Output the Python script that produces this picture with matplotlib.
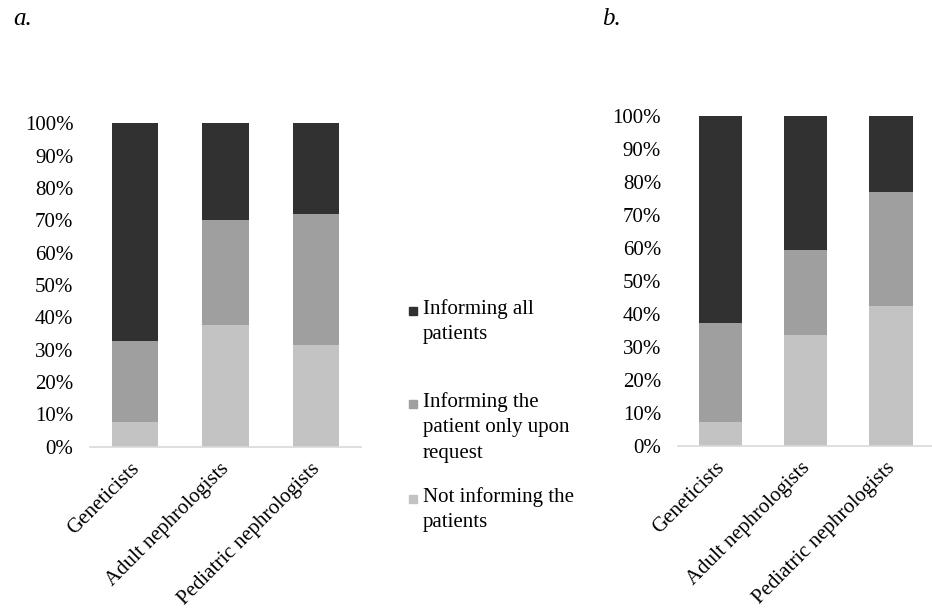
import numpy as np
import matplotlib.pyplot as plt
import matplotlib.transforms as mtransforms
from matplotlib.patches import Rectangle

plt.rcParams['font.family'] = ['Liberation Serif', 'DejaVu Serif']

categories = ["Geneticists", "Adult nephrologists", "Pediatric nephrologists"]
series_names = ["Informing all\npatients",
                "Informing the\npatient only upon\nrequest",
                "Not informing the\npatients"]

# panel a (percent)
a_not = [7.6, 37.6, 31.5]
a_request = [25.1, 32.5, 40.4]
a_all = [67.3, 29.9, 28.1]

# panel b (percent)
b_not = [7.2, 33.6, 42.3]
b_request = [30.1, 25.6, 34.7]
b_all = [62.7, 40.8, 23.0]

c_all = "#313131"
c_req = "#9f9f9f"
c_not = "#c3c3c3"

fig = plt.figure(figsize=(9.32, 6.13), dpi=100)

ax_a = fig.add_axes([90/932, 1-446.7/613, 271/932, 323.4/613])
ax_b = fig.add_axes([677.7/932, 1-445.7/613, 256/932, 330/613])


def draw(ax, not_inf, request, all_inf):
    x = np.arange(len(categories))
    w = 0.51
    not_inf = np.array(not_inf)
    request = np.array(request)
    all_inf = np.array(all_inf)
    ax.bar(x, not_inf, w, color=c_not)
    ax.bar(x, request, w, bottom=not_inf, color=c_req)
    ax.bar(x, all_inf, w, bottom=not_inf + request, color=c_all)
    ax.set_xlim(-0.5, 2.5)
    ax.set_ylim(0, 100)
    ax.set_yticks(np.arange(0, 101, 10))
    ax.set_yticklabels([f"{v}%" for v in range(0, 101, 10)], fontsize=15)
    ax.tick_params(axis='y', length=0, pad=12)
    ax.set_xticks(x)
    ax.set_xticklabels(categories, fontsize=15, rotation=45, ha='right',
                       rotation_mode='anchor')
    ax.tick_params(axis='x', length=0, pad=9)
    shift = mtransforms.ScaledTranslation(-4/72, 0, fig.dpi_scale_trans)
    for lbl in ax.get_xticklabels():
        lbl.set_transform(lbl.get_transform() + shift)
    for s in ['top', 'right', 'left']:
        ax.spines[s].set_visible(False)
    ax.spines['bottom'].set_color("#d9d9d9")
    ax.spines['bottom'].set_linewidth(1.2)


draw(ax_a, a_not, a_request, a_all)
draw(ax_b, b_not, b_request, b_all)

# legend drawn by hand so squares line up with the first text line
leg_y = [311, 404, 499]
for name, col, y in zip(series_names, [c_all, c_req, c_not], leg_y):
    fig.add_artist(Rectangle((409/932, 1-(y+4)/613), 8/932, 8/613,
                             color=col, transform=fig.transFigure))
    fig.text(423/932, 1-(y-12)/613, name, fontsize=15, va='top',
             ha='left', linespacing=1.45)

fig.text(13/932, 1-25/613, "a.", fontsize=18, style='italic')
fig.text(602/932, 1-25/613, "b.", fontsize=18, style='italic')

fig.savefig("out.png", dpi=100)
